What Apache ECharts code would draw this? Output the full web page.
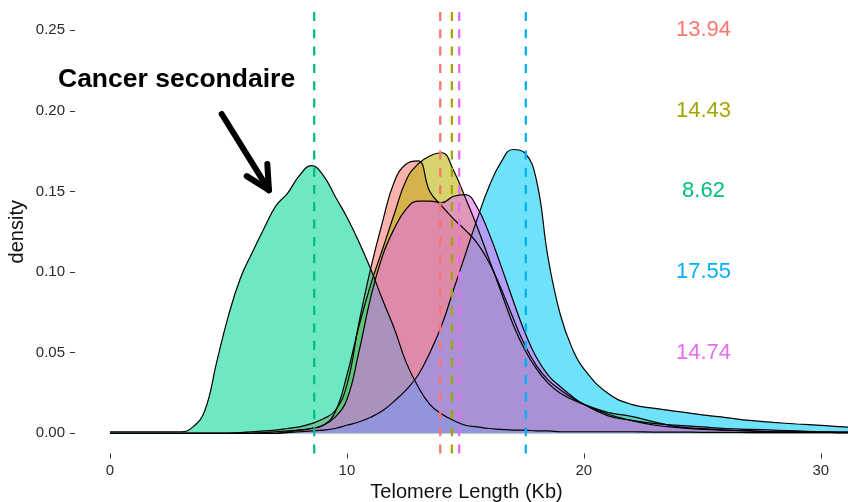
<!DOCTYPE html>
<html>
<head>
    <meta charset="utf-8">
    <title>Telomere Length density</title>
    <script src="https://cdn.jsdelivr.net/npm/echarts@6/dist/echarts.min.js"></script>
    <style>
        html, body { margin: 0; padding: 0; background: #fff; }
        #chart { width: 848px; height: 502px; }
    </style>
</head>
<body>
<div id="chart"></div>
<script type="text/javascript">
    // x grid of the density estimates (Kb)
    var xs = [0, 1, 2, 3, 3.5, 4, 4.5, 5, 5.5, 6, 6.5, 7, 7.5, 8, 8.5, 9, 9.5, 10, 10.5, 11, 11.5, 12, 12.5, 13, 13.5,
        14, 14.5, 15, 15.5, 16, 16.5, 17, 17.5, 18, 18.5, 19, 19.5, 20, 21, 22, 23, 24, 25, 26, 27, 28, 29, 30, 31, 31.5];

    // densities, one array per group
    var dRed = [0, 0, 0, 0, 0, 0, 0, 0, 0.0005, 0.001, 0.0015, 0.002, 0.003, 0.004, 0.006, 0.009, 0.014, 0.03, 0.068, 0.102, 0.131,
        0.156, 0.167, 0.169, 0.150, 0.141, 0.133, 0.126, 0.118, 0.106, 0.09, 0.072, 0.055, 0.042, 0.033, 0.027, 0.022, 0.018,
        0.012, 0.008, 0.005, 0.0035, 0.0025, 0.002, 0.0015, 0.001, 0.001, 0.0008, 0.0005, 0.0005];
    var dOlive = [0, 0, 0, 0, 0, 0, 0, 0, 0, 0, 0.0005, 0.001, 0.0015, 0.002, 0.003, 0.005, 0.013, 0.036, 0.066, 0.092, 0.114,
        0.136, 0.157, 0.167, 0.172, 0.174, 0.163, 0.146, 0.128, 0.108, 0.088, 0.068, 0.052, 0.04, 0.031, 0.025, 0.021, 0.018,
        0.013, 0.0105, 0.007, 0.004, 0.003, 0.002, 0.0015, 0.001, 0.001, 0.0008, 0.0005, 0.0005];
    var dGreen = [0.001, 0.001, 0.001, 0.001, 0.004, 0.014, 0.044, 0.073, 0.096, 0.112, 0.127, 0.141, 0.149, 0.16, 0.166, 0.16,
        0.147, 0.134, 0.119, 0.102, 0.083, 0.065, 0.044, 0.029, 0.018, 0.012, 0.008, 0.005, 0.004, 0.003, 0.0025, 0.002,
        0.002, 0.0015, 0.0015, 0.001, 0.001, 0.001, 0.001, 0.001, 0.0008, 0.0008, 0.0006, 0.0006, 0.0005, 0.0005, 0.0005,
        0.0004, 0.0004, 0.0004];
    var dBlue = [0, 0, 0, 0, 0, 0, 0, 0, 0, 0, 0, 0, 0.0005, 0.001, 0.0015, 0.002, 0.003, 0.005, 0.007, 0.01, 0.014, 0.02, 0.027,
        0.036, 0.05, 0.067, 0.089, 0.111, 0.133, 0.153, 0.168, 0.176, 0.174, 0.157, 0.108, 0.074, 0.053, 0.04, 0.025, 0.018,
        0.0155, 0.0135, 0.0115, 0.0098, 0.008, 0.0068, 0.0058, 0.005, 0.004, 0.0038];
    var dMagenta = [0, 0, 0, 0, 0, 0, 0, 0, 0, 0, 0, 0, 0.001, 0.002, 0.003, 0.005, 0.01, 0.021, 0.05, 0.084, 0.11, 0.127, 0.139,
        0.144, 0.144, 0.143, 0.147, 0.148, 0.14, 0.124, 0.104, 0.083, 0.063, 0.047, 0.036, 0.029, 0.023, 0.018, 0.011, 0.008,
        0.006, 0.005, 0.004, 0.003, 0.0025, 0.002, 0.0015, 0.001, 0.001, 0.001];

    // group means (dashed lines + labels), in ggplot order
    var means = [13.94, 14.43, 8.62, 17.55, 14.74];
    var colors = ['#F8766D', '#A3A500', '#00BF7D', '#00B0F6', '#E76BF3'];
    var fills = ['#F8766D', '#B8B400', '#00D596', '#00CCF7', '#E76BF3'];
    var labelY = [0.25, 0.20, 0.15, 0.10, 0.05];
    var labelX = 25.05;

    var xTicks = [0, 10, 20, 30];
    var yTicks = [0, 0.05, 0.10, 0.15, 0.20, 0.25];

    // annotation: text and arrow (data coordinates)
    var noteText = 'Cancer secondaire';
    var notePos = [2.81, 0.2193];
    var arrowStart = [4.715, 0.198];
    var arrowTip = [6.71, 0.1508];
    var arrowLeft = [5.77, 0.1595];
    var arrowRight = [6.64, 0.167];

    var yMin = -0.0125, yMax = 0.2625;
    var font = 'Liberation Sans, Arial, Helvetica, sans-serif';

    function pairs(ys) {
        return xs.map(function (x, i) { return [x, ys[i]]; });
    }

    var densities = [dRed, dOlive, dGreen, dBlue, dMagenta];
    var series = [];

    densities.forEach(function (d, i) {
        series.push({
            type: 'line',
            data: pairs(d),
            smooth: 0.45,
            symbol: 'none',
            clip: true,
            lineStyle: { color: '#000', width: 1.2 },
            areaStyle: { color: fills[i], opacity: 0.57 },
            z: 2
        });
    });

    means.forEach(function (m, i) {
        series.push({
            type: 'line',
            data: [[m, yMin], [m, yMax]],
            symbol: 'none',
            lineStyle: { color: colors[i], width: 2.3, type: [9, 8.3] },
            z: 3
        });
    });

    series.push({
        type: 'scatter',
        symbolSize: 0,
        z: 4,
        itemStyle: { opacity: 1 },
        data: means.map(function (m, i) {
            return {
                value: [labelX, labelY[i]],
                label: { color: colors[i] },
                name: m.toFixed(2)
            };
        }),
        label: {
            show: true,
            position: 'inside',
            formatter: function (p) { return p.name; },
            fontFamily: font,
            fontSize: 22
        }
    });

    series.push({
        type: 'scatter',
        symbolSize: 0,
        z: 5,
        itemStyle: { opacity: 1 },
        data: [{ value: notePos, name: noteText }],
        label: {
            show: true,
            position: 'inside',
            formatter: function (p) { return p.name; },
            fontFamily: font,
            fontSize: 26.5,
            fontWeight: 'bold',
            color: '#000'
        },
        markLine: {
            silent: true,
            symbol: 'none',
            animation: false,
            label: { show: false },
            lineStyle: { color: '#000', width: 6, type: 'solid', cap: 'round', opacity: 1 },
            emphasis: { disabled: true },
            data: [
                [{ coord: arrowStart }, { coord: arrowTip }],
                [{ coord: arrowLeft }, { coord: arrowTip }],
                [{ coord: arrowRight }, { coord: arrowTip }]
            ]
        }
    });

    var myChart = echarts.init(document.getElementById('chart'));
    myChart.setOption({
        animation: false,
        backgroundColor: '#fff',
        grid: { left: 75, right: 0, top: 10, bottom: 48.5, outerBoundsMode: 'none' },
        xAxis: {
            type: 'value',
            min: -1.477,
            max: 31.15,
            name: 'Telomere Length (Kb)',
            nameLocation: 'middle',
            nameGap: 29,
            nameMoveOverlap: false,
            nameTextStyle: { fontFamily: font, fontSize: 20, color: '#111', padding: [0, 0, 0, 10] },
            axisLine: { show: false, onZero: false },
            splitLine: { show: false },
            axisTick: { show: true, length: 5, customValues: xTicks, lineStyle: { color: '#333', width: 1 } },
            axisLabel: { customValues: xTicks, margin: 10, fontFamily: font, fontSize: 15, color: '#2a2a2a' }
        },
        yAxis: {
            type: 'value',
            min: yMin,
            max: yMax,
            name: 'density',
            nameLocation: 'middle',
            nameGap: 47.5,
            nameMoveOverlap: false,
            nameTextStyle: { fontFamily: font, fontSize: 20, color: '#111' },
            axisLine: { show: false, onZero: false },
            splitLine: { show: false },
            axisTick: { show: true, length: 5, customValues: yTicks, lineStyle: { color: '#333', width: 1 } },
            axisLabel: {
                customValues: yTicks, margin: 10, fontFamily: font, fontSize: 15, color: '#2a2a2a',
                formatter: function (v) { return v.toFixed(2); }
            }
        },
        series: series
    });
</script>
</body>
</html>
